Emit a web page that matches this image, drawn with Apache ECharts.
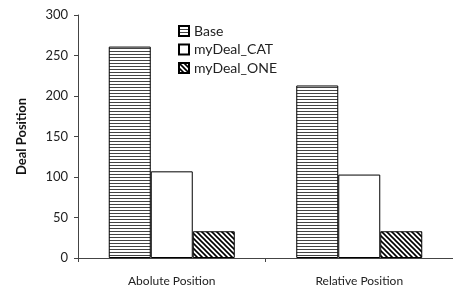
<!DOCTYPE html>
<html>
<head>
<meta charset="utf-8">
<script src="https://cdn.jsdelivr.net/npm/echarts@6/dist/echarts.min.js"></script>
<style>
  html, body { margin: 0; padding: 0; background: #fff; }
  #chart { width: 453px; height: 293px; }
</style>
</head>
<body>
<div id="chart"></div>
<script>
const categories = ["Abolute Position", "Relative Position"]
const seriesNames = ["Base", "myDeal_CAT", "myDeal_ONE"]
const baseValues = [261, 213]
const catValues = [107, 103]
const oneValues = [33, 33]

// 横线填充
function hLines() {
  const c = document.createElement("canvas")
  c.width = 4; c.height = 3
  const g = c.getContext("2d")
  g.fillStyle = "#fff"; g.fillRect(0, 0, 4, 3)
  g.fillStyle = "#444"; g.fillRect(0, 0, 4, 1)
  return c
}
// 斜线填充
function dLines() {
  const c = document.createElement("canvas")
  const s = 5
  c.width = s; c.height = s
  const g = c.getContext("2d")
  g.fillStyle = "#fff"; g.fillRect(0, 0, s, s)
  g.strokeStyle = "#000"; g.lineWidth = 1.6
  g.beginPath()
  g.moveTo(-1, -1); g.lineTo(s + 1, s + 1)
  g.moveTo(-1, s - 1); g.lineTo(1, s + 1)
  g.moveTo(s - 1, -1); g.lineTo(s + 1, 1)
  g.stroke()
  return c
}

const font = "Lato, 'Liberation Sans', sans-serif"
const fills = [
  { image: hLines(), repeat: "repeat" },
  "#ffffff",
  { image: dLines(), repeat: "repeat" }
]
const dataSets = [baseValues, catValues, oneValues]

const chart = echarts.init(document.getElementById("chart"))
chart.setOption({
  animation: false,
  backgroundColor: "#fff",
  grid: { left: 78, top: 15, width: 378, height: 243, containLabel: false },
  legend: {
    orient: "vertical",
    left: 173,
    top: 19,
    icon: "rect",
    itemWidth: 10,
    itemHeight: 10,
    itemGap: 4.5,
    textStyle: { fontFamily: font, fontSize: 14, color: "#222" },
    data: seriesNames
  },
  xAxis: {
    type: "category",
    data: categories,
    axisLine: { lineStyle: { color: "#444" } },
    axisTick: { show: true, length: 4, lineStyle: { color: "#444" } },
    axisLabel: { fontFamily: font, fontSize: 12, color: "#222", margin: 17 }
  },
  yAxis: {
    type: "value",
    min: 0,
    max: 300,
    interval: 50,
    name: "Deal Position",
    nameLocation: "middle",
    nameGap: 50,
    nameTextStyle: { fontFamily: font, fontSize: 13, fontWeight: "bold", color: "#111" },
    axisLine: { show: true, lineStyle: { color: "#444" } },
    axisTick: { show: true, length: 4, lineStyle: { color: "#444" } },
    axisLabel: { fontFamily: font, fontSize: 13, color: "#222", margin: 10 },
    splitLine: { show: false }
  },
  series: seriesNames.map((n, i) => ({
    name: n,
    type: "bar",
    data: dataSets[i],
    barWidth: 42,
    barGap: "0%",
    itemStyle: { color: fills[i], borderColor: "#000", borderWidth: 1 }
  }))
})
</script>
</body>
</html>
